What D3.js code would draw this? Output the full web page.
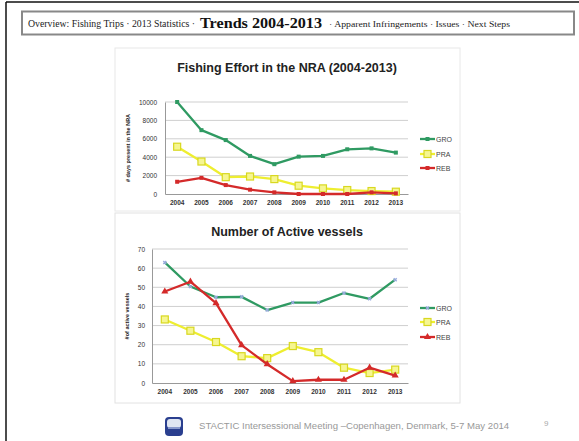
<!DOCTYPE html>
<html><head><meta charset="utf-8">
<script src="https://cdn.jsdelivr.net/npm/d3@7"></script>
<style>body{margin:0;background:#fff}svg{display:block}</style>
</head><body>
<script>
const years = ["2004","2005","2006","2007","2008","2009","2010","2011","2012","2013"];
const effortGRO = [10000,6940,5860,4140,3240,4060,4140,4860,4960,4500];
const effortPRA = [5140,3530,1830,1900,1620,900,610,430,320,250];
const effortREB = [1330,1760,970,470,180,0,0,0,180,70];
const effortTicks = [0,2000,4000,6000,8000,10000];
const vesselsGRO = [63,50.4,44.8,45,38.1,42,42,47,44,54];
const vesselsPRA = [33.2,27.3,21.4,14,13,19.3,16.1,8,5.2,7];
const vesselsREB = [47.8,52.9,41.7,19.8,9.8,1,1.7,1.7,8,3.9];
const vesselTicks = [0,10,20,30,40,50,60,70];
const seriesNames = ["GRO","PRA","REB"];
const colors = {GRO:"#2f9a62", PRA:"#eeee30", REB:"#d42a2a"};

const W=579,H=441;
const svg=d3.select("body").append("svg").attr("width",W).attr("height",H);
svg.append("rect").attr("width",W).attr("height",H).attr("fill","#fff");
svg.append("line").attr("x1",6).attr("x2",W).attr("y1",2).attr("y2",2).attr("stroke","#111").attr("stroke-width",1.5);
svg.append("line").attr("x1",6).attr("x2",6).attr("y1",2).attr("y2",H).attr("stroke","#111").attr("stroke-width",1.5);
svg.append("rect").attr("x",22).attr("y",11.5).attr("width",552).attr("height",23).attr("fill","#fff").attr("stroke","#888").attr("stroke-width",2);
const hf="Liberation Serif, serif";
svg.append("text").attr("x",28).attr("y",27).attr("font-family",hf).attr("font-size",9.6).attr("fill","#222")
  .attr("textLength",167).attr("lengthAdjust","spacingAndGlyphs").text("Overview: Fishing Trips · 2013 Statistics ·");
svg.append("text").attr("x",200).attr("y",27.5).attr("font-family",hf).attr("font-size",15).attr("font-weight","bold").attr("fill","#111")
  .attr("textLength",122).attr("lengthAdjust","spacingAndGlyphs").text("Trends 2004-2013");
svg.append("text").attr("x",329).attr("y",27).attr("font-family",hf).attr("font-size",8).attr("fill","#222")
  .attr("textLength",181).attr("lengthAdjust","spacingAndGlyphs").text("· Apparent Infringements · Issues · Next Steps");

svg.append("rect").attr("x",115).attr("y",48).attr("width",345).attr("height",163).attr("fill","#fff").attr("stroke","#e8e8e8");
svg.append("rect").attr("x",115).attr("y",213).attr("width",345).attr("height",190).attr("fill","#fff").attr("stroke","#e2e2e2");

function chart(cfg){
  const g=svg.append("g");
  const x=d3.scaleBand().domain(years).range([cfg.x0,408]);
  const y=d3.scaleLinear().domain([0,cfg.max]).range([cfg.y0,cfg.y1]);
  g.selectAll(".grid").data(cfg.ticks.slice(1)).join("line")
    .attr("x1",cfg.x0).attr("x2",408).attr("y1",d=>y(d)).attr("y2",d=>y(d))
    .attr("stroke","#cfcfcf").attr("stroke-width",1);
  const ya=g.append("g").attr("transform",`translate(${cfg.x0},0)`)
    .call(d3.axisLeft(y).tickValues(cfg.ticks).tickFormat(d3.format("d")).tickSize(0).tickPadding(cfg.pad));
  ya.select(".domain").attr("stroke","#999");
  ya.selectAll("text").attr("font-family","Liberation Sans, Arial").attr("font-size",6.5).attr("fill","#333");
  const xa=g.append("g").attr("transform",`translate(0,${cfg.y0})`)
    .call(d3.axisBottom(x).tickSize(0).tickPadding(6));
  xa.select(".domain").attr("stroke","#999");
  xa.selectAll("text").attr("font-family","Liberation Sans, Arial").attr("font-size",6.5).attr("fill","#333").attr("font-weight","bold");
  g.append("text").attr("x",287).attr("y",cfg.titleY).attr("text-anchor","middle")
    .attr("font-family","Liberation Sans, Arial").attr("font-weight","bold").attr("font-size",12.5).attr("fill","#222").text(cfg.title);
  g.append("text").attr("transform",`translate(${cfg.ylx},${(cfg.y0+cfg.y1)/2}) rotate(-90)`).attr("text-anchor","middle")
    .attr("font-family","Liberation Sans, Arial").attr("font-weight","bold").attr("font-size",5.5).attr("fill","#222").text(cfg.ylabel);
  const line=d3.line().x((d,i)=>x(years[i])+x.bandwidth()/2).y(d=>y(d));
  cfg.series.forEach((s,k)=>{
    const name=seriesNames[k], c=colors[name];
    g.append("path").datum(s).attr("d",line).attr("fill","none").attr("stroke",c).attr("stroke-width",2.3).attr("stroke-linejoin","round");
    const pts=s.map((d,i)=>[x(years[i])+x.bandwidth()/2,y(d)]);
    drawMarkers(g,pts,cfg.markers[k],c);
    const ly=cfg.legY[k];
    g.append("line").attr("x1",420).attr("x2",435).attr("y1",ly).attr("y2",ly).attr("stroke",c).attr("stroke-width",2.3);
    drawMarkers(g,[[427.5,ly]],cfg.markers[k],c);
    g.append("text").attr("x",436).attr("y",ly+2.5).attr("font-family","Liberation Sans, Arial").attr("font-size",7).attr("fill","#444").text(name);
  });
}
function drawMarkers(g,pts,type,c){
  pts.forEach(([px,py])=>{
    if(type==="dot") g.append("rect").attr("x",px-2).attr("y",py-2).attr("width",4).attr("height",4).attr("fill",c);
    else if(type==="square") g.append("rect").attr("x",px-3.5).attr("y",py-3.5).attr("width",7).attr("height",7).attr("fill","#f6f690").attr("stroke","#d8d820").attr("stroke-width",1.2);
    else if(type==="tri") g.append("path").attr("d",d3.symbol().type(d3.symbolTriangle).size(22)()).attr("transform",`translate(${px},${py})`).attr("fill",c);
    else if(type==="x") g.append("path").attr("d",d3.symbol().type(d3.symbolCross).size(10)()).attr("transform",`translate(${px},${py}) rotate(45)`).attr("fill","#9ad");
  });
}
chart({x0:165,y0:194,y1:102,max:10000,ticks:effortTicks,pad:8,title:"Fishing Effort in the NRA (2004-2013)",titleY:72,ylx:130,ylabel:"# days present in the NRA",
  series:[effortGRO,effortPRA,effortREB],markers:["dot","square","dot"],legY:[139,154,168]});
chart({x0:152,y0:383,y1:249,max:70,ticks:vesselTicks,pad:7,title:"Number of Active vessels",titleY:236,ylx:129,ylabel:"#of active vessels",
  series:[vesselsGRO,vesselsPRA,vesselsREB],markers:["x","square","tri"],legY:[308,322,337]});

const lg=svg.append("g").attr("transform","translate(165,417)");
lg.append("rect").attr("width",18).attr("height",19).attr("rx",4).attr("fill","#2a3f8f");
lg.append("rect").attr("x",2).attr("y",2).attr("width",14).attr("height",9).attr("rx",3).attr("fill","#dfe6f2");
lg.append("rect").attr("x",3).attr("y",10).attr("width",12).attr("height",2).attr("fill","#8899cc");
svg.append("text").attr("x",199).attr("y",429).attr("font-family","Liberation Sans, Arial").attr("font-size",9.6).attr("fill","#999")
  .text("STACTIC Intersessional Meeting \u2013Copenhagen, Denmark, 5-7 May 2014");
svg.append("text").attr("x",544).attr("y",426).attr("font-family","Liberation Sans, Arial").attr("font-size",8).attr("fill","#aaa").text("9");
</script>
</body></html>
